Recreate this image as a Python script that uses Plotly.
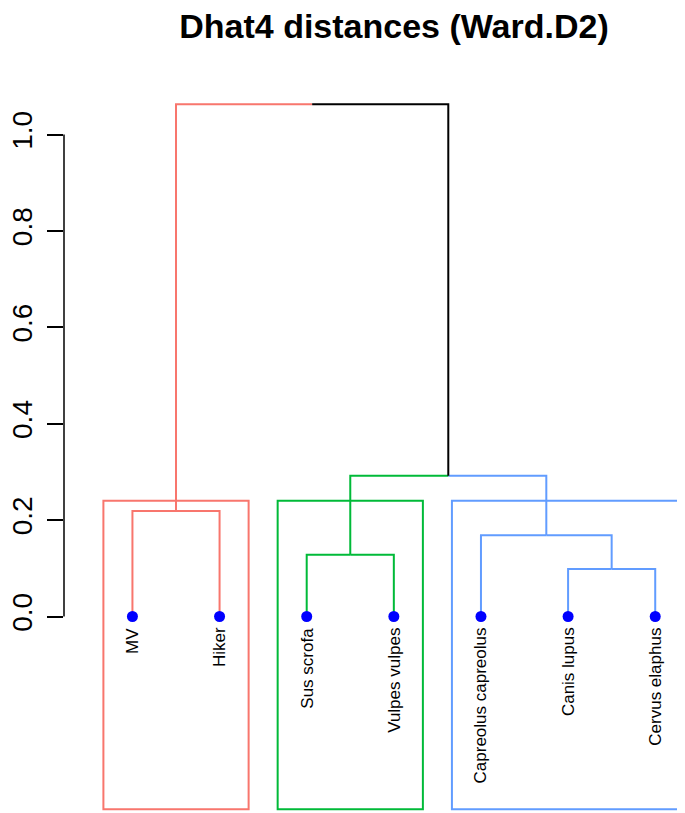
import plotly.graph_objects as go

# ---------------- data ----------------
leaf_labels = ["MV", "Hiker", "Sus scrofa", "Vulpes vulpes",
               "Capreolus capreolus", "Canis lupus", "Cervus elaphus"]
leaf_cluster = [1, 1, 2, 2, 3, 3, 3]
# R-style merge matrix: negative = leaf (1-based), positive = earlier merge (1-based)
merge_pairs = [(-6, -7), (-3, -4), (-5, 1), (-1, -2), (2, 3), (4, 5)]
merge_heights = [0.0985, 0.128, 0.1685, 0.219, 0.292, 1.063]
cluster_colors = {1: "#F8766D", 2: "#00BA38", 3: "#619CFF"}
rect_top = 0.240
rect_bottom = -0.40
y_ticks = [0.0, 0.2, 0.4, 0.6, 0.8, 1.0]
y_tick_text = ["0.0", "0.2", "0.4", "0.6", "0.8", "1.0"]
title_text = "Dhat4 distances (Ward.D2)"

# ---------------- geometry via dendrogram structure ----------------
leaf_x = list(range(1, len(leaf_labels) + 1))
node_x, node_h, node_leaves = {}, {}, {}
for i in range(len(leaf_labels)):
    key = -(i + 1)
    node_x[key] = leaf_x[i]
    node_h[key] = 0.0
    node_leaves[key] = [i]
for m, (a, b) in enumerate(merge_pairs):
    key = m + 1
    node_x[key] = (node_x[a] + node_x[b]) / 2
    node_h[key] = merge_heights[m]
    node_leaves[key] = node_leaves[a] + node_leaves[b]


def node_color(k):
    cl = {leaf_cluster[i] for i in node_leaves[k]}
    return cluster_colors[cl.pop()] if len(cl) == 1 else "#000000"


segs = {}
for m, (a, b) in enumerate(merge_pairs):
    px, ph = node_x[m + 1], node_h[m + 1]
    for child in (a, b):
        c = node_color(child)
        xs, ys = segs.setdefault(c, ([], []))
        xs += [px, node_x[child], node_x[child], None]
        ys += [ph, ph, node_h[child], None]

fig = go.Figure()
for c, (xs, ys) in segs.items():
    fig.add_trace(go.Scatter(x=xs, y=ys, mode="lines",
                             line=dict(color=c, width=2),
                             hoverinfo="skip", showlegend=False))

# cluster rectangles
for cl in sorted(set(leaf_cluster)):
    idx = [leaf_x[i] for i in range(len(leaf_labels)) if leaf_cluster[i] == cl]
    fig.add_shape(type="rect", x0=min(idx) - 1 / 3, x1=max(idx) + 1 / 3,
                  y0=rect_bottom, y1=rect_top,
                  line=dict(color=cluster_colors[cl], width=2))

# leaf points
fig.add_trace(go.Scatter(x=leaf_x, y=[0.0] * len(leaf_x), mode="markers",
                         marker=dict(color="#0000FF", size=11),
                         hoverinfo="skip", showlegend=False))

# leaf labels
for x, lab in zip(leaf_x, leaf_labels):
    fig.add_annotation(x=x, y=0, text=lab, showarrow=False, textangle=-90,
                       xanchor="center", yanchor="top", yshift=-9,
                       font=dict(family="Liberation Sans, Arial", size=17,
                                 color="black"))

# y axis line only from 0 to 1
fig.add_shape(type="line", xref="paper", x0=0, x1=0, yref="y",
              y0=y_ticks[0], y1=y_ticks[-1],
              line=dict(color="black", width=1.5))

# page has an 8px body margin; figure pixels = window pixels - 8
OFF = 8
W, H = 685 - OFF, 813 - OFF
mt, mb, ml, mr = 60 - OFF, 0, 63.5 - OFF, 0
ppu = 482.0
y0_px = 616.5 - OFF
y_hi = (y0_px - mt) / ppu
y_lo = y_hi - (H - mt - mb) / ppu
xpu = 87.2
x1_px = 132 - OFF
x_lo = 1 - (x1_px - ml) / xpu
x_hi = x_lo + (W - ml - mr) / xpu

fig.update_layout(
    width=W, height=H,
    margin=dict(l=ml, r=mr, t=mt, b=mb, pad=0, autoexpand=False),
    plot_bgcolor="white", paper_bgcolor="white",
    title=dict(text="<b>" + title_text + "</b>", xref="container",
               yref="container", x=(394 - OFF) / W, xanchor="center",
               y=1 - 6 / H, yanchor="top", automargin=False,
               pad=dict(t=0, b=0, l=0, r=0),
               font=dict(family="Liberation Sans, Arial", size=34,
                         color="black")),
    xaxis=dict(range=[x_lo, x_hi], visible=False, fixedrange=True,
               automargin=False),
    yaxis=dict(range=[y_lo, y_hi], showgrid=False, zeroline=False,
               showline=False, tickmode="array", tickvals=y_ticks,
               ticktext=y_tick_text, ticks="outside", ticklen=16,
               tickwidth=1.5, tickcolor="black", tickangle=-90,
               ticklabelstandoff=4, automargin=False,
               tickfont=dict(family="Liberation Sans, Arial", size=28,
                             color="black")),
)

fig.write_html("out.html")
